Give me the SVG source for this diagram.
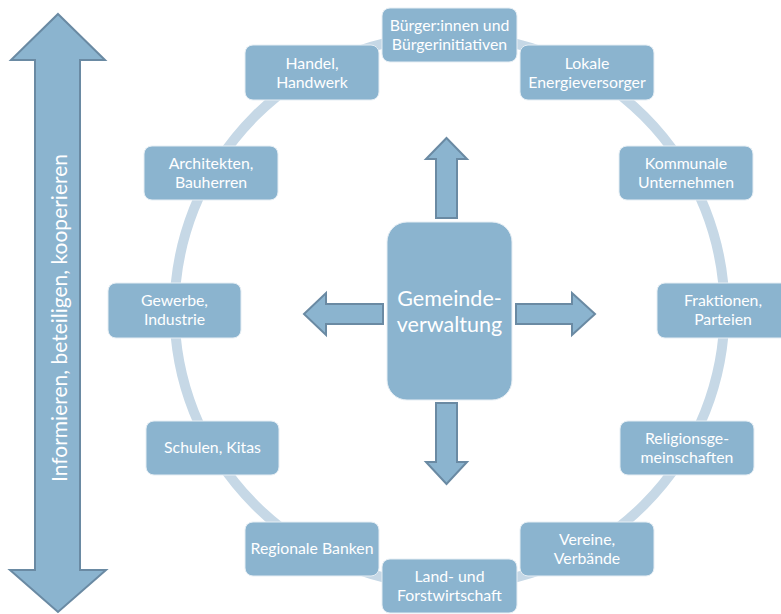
<svg xmlns="http://www.w3.org/2000/svg" width="781" height="614" viewBox="0 0 781 614">
<style>
.node rect{fill:#8BB4CF;stroke:#E6EEF4;stroke-width:1}
.node text,.center text{fill:#FFFFFF;font-family:Lato,"Open Sans",sans-serif;text-anchor:middle}
.node text{font-size:15.8px}
.arrow{fill:#8BB4CF;stroke:#6A8AA3;stroke-width:2;stroke-linejoin:miter}
.ring{fill:none;stroke:#C6D8E6;stroke-width:10}
</style>
<rect width="781" height="614" fill="#FFFFFF"/>
<g id="connectors">
<circle class="ring" cx="449.5" cy="310.5" r="275"/>
<path class="arrow" d="M58,14 L105,60 L80,60 L80,570 L106,570 L58,612 L10,570 L35,570 L35,60 L11,60 Z"/>
<path class="arrow" d="M446.5,138 L467,159 L457,159 L457,218 L436,218 L436,159 L426,159 Z"/>
<path class="arrow" d="M446.5,484 L467,462 L457,462 L457,403 L436,403 L436,462 L426,462 Z"/>
<path class="arrow" d="M304,314 L326,293 L326,304 L383,304 L383,324 L326,324 L326,335 Z"/>
<path class="arrow" d="M595,314 L572,293 L572,304 L516,304 L516,324 L572,324 L572,335 Z"/>
</g>
<text x="58" y="318" transform="rotate(-90 58 318)" fill="#FFFFFF" font-family="Lato,'Open Sans',sans-serif" font-size="21" text-anchor="middle" dominant-baseline="central">Informieren, beteiligen, kooperieren</text>
<g id="center" class="center">
<rect x="387" y="222" width="125" height="178" rx="20" fill="#8BB4CF" stroke="#E6EEF4"/>
<text x="449.5" y="306" font-size="21.5">Gemeinde-</text>
<text x="449.5" y="332" font-size="21.5">verwaltung</text>
</g>
<g id="n-buerger" class="node"><rect x="382" y="8" width="135" height="54" rx="8"/><text x="449.5" y="31">Bürger:innen und</text><text x="449.5" y="50">Bürgerinitiativen</text></g>
<g id="n-handel" class="node"><rect x="245" y="45" width="134" height="55" rx="8"/><text x="312" y="69">Handel,</text><text x="312" y="88">Handwerk</text></g>
<g id="n-lokale" class="node"><rect x="520" y="45" width="134" height="55" rx="8"/><text x="587" y="69">Lokale</text><text x="587" y="88">Energieversorger</text></g>
<g id="n-architekten" class="node"><rect x="144" y="146" width="134" height="54" rx="8"/><text x="211" y="169">Architekten,</text><text x="211" y="188">Bauherren</text></g>
<g id="n-kommunale" class="node"><rect x="619" y="146" width="134" height="54" rx="8"/><text x="686" y="169">Kommunale</text><text x="686" y="188">Unternehmen</text></g>
<g id="n-gewerbe" class="node"><rect x="108" y="283" width="133" height="55" rx="8"/><text x="174.5" y="306">Gewerbe,</text><text x="174.5" y="325">Industrie</text></g>
<g id="n-fraktionen" class="node"><rect x="657" y="283" width="134" height="55" rx="8"/><text x="723" y="306">Fraktionen,</text><text x="723" y="325">Parteien</text></g>
<g id="n-schulen" class="node"><rect x="146" y="421" width="133" height="54" rx="8"/><text x="212.5" y="453">Schulen, Kitas</text></g>
<g id="n-religion" class="node"><rect x="620" y="421" width="134" height="54" rx="8"/><text x="687" y="444">Religionsge-</text><text x="687" y="463">meinschaften</text></g>
<g id="n-banken" class="node"><rect x="245" y="522" width="134" height="54" rx="8"/><text x="312" y="554">Regionale Banken</text></g>
<g id="n-vereine" class="node"><rect x="520" y="522" width="134" height="54" rx="8"/><text x="587" y="545">Vereine,</text><text x="587" y="564">Verbände</text></g>
<g id="n-land" class="node"><rect x="382" y="559" width="135" height="54" rx="8"/><text x="449.5" y="582">Land- und</text><text x="449.5" y="601">Forstwirtschaft</text></g>
</svg>
